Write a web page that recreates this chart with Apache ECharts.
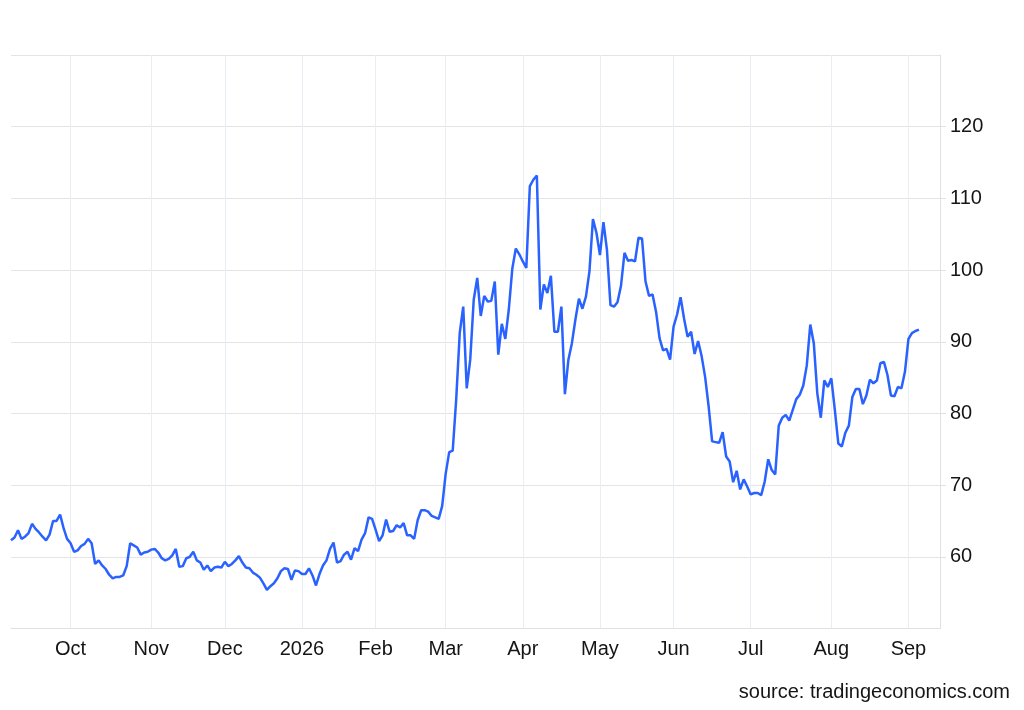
<!DOCTYPE html>
<html>
<head>
<meta charset="utf-8">
<title>Price chart</title>
<script src="https://cdn.jsdelivr.net/npm/echarts@6/dist/echarts.min.js"></script>
<style>
  html, body { margin: 0; padding: 0; background: #fff; }
  #chart { width: 1024px; height: 710px; }
</style>
</head>
<body>
<div id="chart"></div>
<script>
// month labels and the trading-day index where each month starts
var monthLabels = ['Oct', 'Nov', 'Dec', '2026', 'Feb', 'Mar', 'Apr', 'May', 'Jun', 'Jul', 'Aug', 'Sep'];
var monthStart = [17, 40, 61, 83, 104, 124, 146, 168, 189, 211, 234, 256];
var dayCount = 266; // trading-day slots on the axis (last few are empty)

// daily closes
var prices = [
  62.3, 62.7, 63.7, 62.5, 62.8, 63.3, 64.6, 63.9, 63.4, 62.8,
  62.3, 63.1, 65.0, 65.0, 65.9, 64.0, 62.5, 61.9, 60.7, 60.9,
  61.5, 61.8, 62.5, 61.9, 59.0, 59.5, 58.8, 58.3, 57.5, 57.0,
  57.2, 57.2, 57.4, 58.7, 61.9, 61.6, 61.3, 60.3, 60.6, 60.7,
  61.0, 61.1, 60.6, 59.8, 59.5, 59.7, 60.2, 61.1, 58.6, 58.7,
  59.8, 60.0, 60.7, 59.5, 59.2, 58.2, 58.8, 58.0, 58.5, 58.6,
  58.5, 59.3, 58.7, 59.0, 59.5, 60.1, 59.2, 58.5, 58.4, 57.8,
  57.5, 57.1, 56.3, 55.4, 55.9, 56.3, 57.0, 58.0, 58.4, 58.3,
  56.8, 58.1, 58.0, 57.6, 57.6, 58.4, 57.4, 56.0, 57.6, 58.8,
  59.5, 61.1, 62.0, 59.2, 59.4, 60.3, 60.7, 59.6, 61.2, 60.8,
  62.4, 63.3, 65.5, 65.3, 63.8, 62.2, 63.0, 65.2, 63.5, 63.6,
  64.4, 64.1, 64.7, 63.0, 63.0, 62.5, 65.1, 66.5, 66.5, 66.3,
  65.7, 65.5, 65.3, 67.1, 71.6, 74.6, 74.8, 82.0, 91.2, 94.9,
  83.5, 87.5, 95.9, 98.9, 93.6, 96.4, 95.6, 95.7, 98.4, 88.2,
  92.5, 90.4, 94.5, 100.2, 103.0, 102.2, 101.2, 100.3, 111.7, 112.6,
  113.2, 94.5, 98.0, 96.8, 99.2, 91.4, 91.4, 94.9, 82.7, 87.5,
  89.8, 93.1, 96.0, 94.6, 96.3, 99.8, 107.1, 105.2, 102.1, 106.7,
  102.8, 95.1, 94.9, 95.5, 97.8, 102.4, 101.3, 101.4, 101.2, 104.5,
  104.4, 98.4, 96.4, 96.6, 94.2, 90.5, 88.8, 89.0, 87.5, 92.1,
  93.8, 96.2, 93.2, 90.7, 91.4, 88.3, 90.1, 88.0, 85.1, 81.0,
  76.1, 76.0, 75.9, 77.4, 74.0, 73.3, 70.4, 72.0, 69.4, 70.8,
  69.8, 68.7, 68.9, 68.9, 68.6, 70.5, 73.6, 72.1, 71.5, 78.3,
  79.4, 79.8, 79.0, 80.5, 82.0, 82.6, 83.9, 86.7, 92.4, 89.8,
  82.8, 79.4, 84.6, 83.7, 84.9, 80.5, 75.8, 75.4, 77.3, 78.3,
  82.3, 83.4, 83.4, 81.3, 82.5, 84.7, 84.2, 84.6, 87.0, 87.2,
  85.4, 82.5, 82.4, 83.7, 83.5, 85.8, 90.4, 91.2, 91.5, 91.7
];

// y axis range and step
var yMin = 50, yMax = 130, yStep = 10;

var days = [];
for (var i = 0; i < dayCount; i++) days.push('d' + i);

function monthOf(idx) {
  var k = monthStart.indexOf(idx);
  return k < 0 ? '' : monthLabels[k];
}

var chart = echarts.init(document.getElementById('chart'));

var option = {
  animation: false,
  textStyle: { fontFamily: 'Liberation Sans, Arial, sans-serif' },
  grid: { left: 11, right: 84, top: 55, bottom: 81.5 },
  xAxis: {
    type: 'category',
    data: days,
    boundaryGap: false,
    axisLine: { show: true, lineStyle: { color: '#e1e1e1', width: 1 } },
    axisTick: { show: false },
    axisLabel: {
      interval: function (idx) { return monthStart.indexOf(idx) >= 0; },
      formatter: function (val, idx) { return monthOf(idx); },
      color: '#151515',
      fontSize: 20,
      margin: 11
    },
    splitLine: {
      show: true,
      interval: function (idx) { return monthStart.indexOf(idx) >= 0; },
      lineStyle: { color: '#e8eef4', width: 1 }
    }
  },
  yAxis: {
    type: 'value',
    position: 'right',
    min: yMin,
    max: yMax,
    interval: yStep,
    axisLine: { show: true, lineStyle: { color: '#e1e1e1', width: 1 } },
    axisTick: { show: true, length: 6, lineStyle: { color: '#e1e1e1' } },
    axisLabel: {
      showMinLabel: false,
      showMaxLabel: false,
      color: '#151515',
      fontSize: 20,
      margin: 10
    },
    splitLine: { show: true, lineStyle: { color: '#e4e4e4', width: 1 } }
  },
  series: [{
    type: 'line',
    data: prices,
    showSymbol: false,
    symbol: 'none',
    lineStyle: { color: '#2962ff', width: 2.5 },
    itemStyle: { color: '#2962ff' }
  }],
  graphic: [{
    type: 'text',
    right: 14,
    top: 682,
    style: {
      text: 'source: tradingeconomics.com',
      fill: '#151515',
      font: '20px "Liberation Sans", Arial, sans-serif'
    }
  }]
};

chart.setOption(option);
</script>
</body>
</html>
